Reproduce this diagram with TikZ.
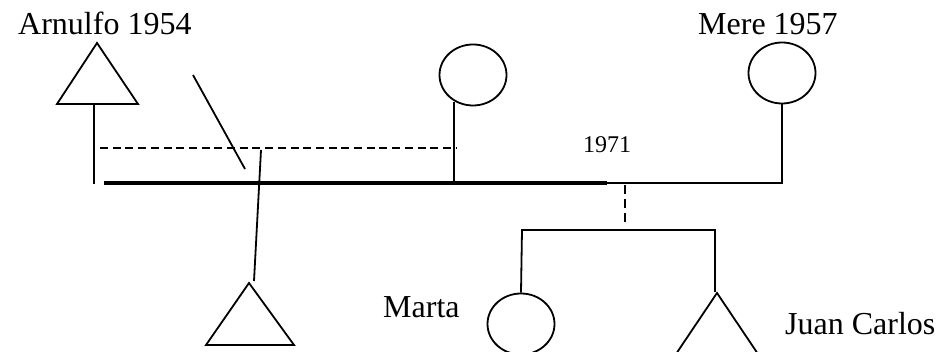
\documentclass[tikz,border=0pt]{standalone}
\usepackage{fontspec}
\setmainfont{Liberation Serif}
\usetikzlibrary{shapes.geometric}
\begin{document}
\begin{tikzpicture}[x=1pt,y=-1pt,
 thinln/.style={line width=1.8pt},
 thickln/.style={line width=4.2pt},
 dashln/.style={line width=1.8pt, dash pattern=on 8pt off 4.7pt},
 fem/.style={draw, ellipse, line width=1.8pt, minimum width=67pt, minimum height=61pt, inner sep=0pt},
 lbl/.style={inner sep=0pt, anchor=base west, font=\fontsize{32}{38}\selectfont},
 yr/.style={inner sep=0pt, anchor=base west, font=\fontsize{24}{28}\selectfont}]
\useasboundingbox (0,0) rectangle (938,352);
\clip (0,0) rectangle (938,352);
% labels
\node[lbl] (tArn) at (18,35) {Arnulfo 1954};
\node[lbl] (tMere) at (698,35) {Mere 1957};
\node[yr] (tYear) at (583,153) {1971};
\node[lbl] (tMarta) at (383,318) {Marta};
\node[lbl] (tJC) at (785,335) {Juan Carlos};
% Arnulfo triangle
\coordinate (arnApex) at (97,43);
\coordinate (arnR) at (138,104);
\coordinate (arnL) at (57,104);
\coordinate (arnBase) at (94,104);
\coordinate (arnEnd) at (94,184);
\draw[thinln, line join=miter] (arnApex) -- (arnR) -- (arnL) -- cycle;
\draw[thinln] (arnBase) -- (arnEnd);
% circles
\node[fem] (w2) at (473,75) {};
\node[fem] (mere) at (782,73) {};
\node[fem] (marta) at (521,324) {};
% marriage lines
\coordinate (marL) at (104,183);
\coordinate (marR) at (607,183);
\coordinate (mereCorner) at (782,183);
\draw[thickln] (marL) -- (marR);
\draw[thinln] (marR) -- (mereCorner) -- (mere.south);
\coordinate (w2Drop) at (454,102);
\coordinate (w2End) at (454,183);
\draw[thinln] (w2Drop) -- (w2End);
% dashed relation
\coordinate (dashL) at (100,148);
\coordinate (dashR) at (457,148);
\draw[dashln] (dashL) -- (dashR);
% slash
\coordinate (slA) at (193,75);
\coordinate (slB) at (245,169);
\draw[thinln] (slA) -- (slB);
% line to bottom triangle
\coordinate (sonTop) at (261,150);
\coordinate (sonBot) at (254,281);
\draw[thinln] (sonTop) -- (sonBot);
\coordinate (sonApex) at (249,283);
\coordinate (sonR) at (294,345);
\coordinate (sonL) at (206,345);
\draw[thinln, line join=miter] (sonApex) -- (sonR) -- (sonL) -- cycle;
% children
\coordinate (chTop) at (625,185);
\coordinate (chBar) at (625,222);
\draw[dashln, dash pattern=on 9pt off 5pt] (chTop) -- (chBar);
\coordinate (barL) at (522,230);
\coordinate (barR) at (715,230);
\coordinate (jcApex) at (717,293);
\draw[thinln] (marta.north) -- (barL) -- (barR) -- (715,292);
\coordinate (jcR) at (758,354);
\coordinate (jcL) at (676,354);
\draw[thinln, line join=miter] (jcApex) -- (jcR) -- (jcL) -- cycle;
\end{tikzpicture}
\end{document}
